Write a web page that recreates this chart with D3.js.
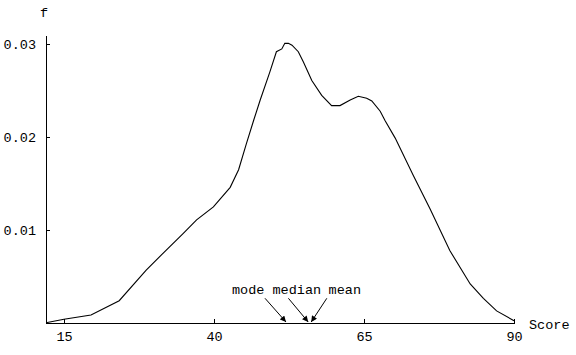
<!DOCTYPE html>
<html>
<head>
<meta charset="utf-8">
<script src="https://cdn.jsdelivr.net/npm/d3@7"></script>
<style>
  body { margin: 0; background: #fff; }
  text { font-family: "Liberation Mono", "DejaVu Sans Mono", monospace; font-size: 13.5px; fill: #000; }
</style>
</head>
<body>
<div id="chart"></div>
<script>
var plot = {
  width: 576,
  height: 355,
  top: 35,
  right: 62,
  bottom: 32,
  left: 46,
}

// density curve
var scores = [12, 15, 19.5, 24.2, 28.7, 31.2, 34.8, 37.1, 39.9, 42.7,
  44.1, 45.4, 46.6, 47.7, 49.3, 50.4, 51.3, 51.8, 52.4, 53.0,
  54.05, 54.9, 56.3, 57.95, 59.6, 61, 62.7, 64.05, 65.45, 66.3,
  67.7, 68.5, 70.2, 73.2, 76, 79.3, 82.7, 84.9, 87.1, 90];
var density = [0.00003, 0.0004, 0.00086, 0.0024, 0.0057, 0.0073, 0.0096, 0.0111, 0.0125, 0.0146,
  0.0165, 0.0193, 0.0218, 0.0240, 0.0270, 0.0292, 0.0295, 0.0301, 0.0301, 0.0299,
  0.0292, 0.0281, 0.0261, 0.0245, 0.0234, 0.0234, 0.0240, 0.0244, 0.0242, 0.0239,
  0.0228, 0.0218, 0.0199, 0.0159, 0.0123, 0.0078, 0.0042, 0.00266, 0.0013, 0.00025];

var xTicks = [15, 40, 65, 90];
var yTicks = [0.01, 0.02, 0.03];

// annotations: label name, arrow target score, arrow tail score, label centre score
var statNames = ["mode", "median", "mean"];
var statValues = [52, 55.7, 56.2];
var tailScores = [48.5, 52.4, 58.8];
var labelScores = [45.7, 53.8, 61.8];
var tailF = 0.00266;
var labelF = 0.00355;

var svg = d3.select("#chart")
  .append("svg")
  .attr("width", plot.width)
  .attr("height", plot.height);

let x = d3.scaleLinear()
  .domain([12, 90])
  .range([plot.left, plot.width - plot.right]);

let y = d3.scaleLinear()
  .domain([0, 0.031])
  .range([plot.height - plot.bottom, plot.top]);

/* x axis */
svg.append("g")
  .attr("transform", `translate(0, ${plot.height - plot.bottom})`)
  .call(d3.axisBottom(x).tickValues(xTicks).tickSize(-4).tickSizeOuter(0).tickPadding(8).tickFormat(d3.format("d")));

/* y axis */
svg.append("g")
  .attr("transform", `translate(${plot.left}, 0)`)
  .call(d3.axisLeft(y).tickValues(yTicks).tickSize(-4).tickSizeOuter(0).tickPadding(10).tickFormat(d3.format(".2f")));

svg.selectAll(".domain, .tick line")
  .attr("stroke", "#000")
  .attr("stroke-width", 1.2)
  .attr("shape-rendering", "crispEdges");
svg.selectAll(".tick text")
  .attr("font-family", null)
  .attr("font-size", null);

svg.append("text")
  .attr("x", plot.left - 2)
  .attr("y", 17)
  .attr("text-anchor", "middle")
  .text("f");

svg.append("text")
  .attr("x", plot.width - plot.right + 15)
  .attr("y", plot.height - plot.bottom + 6)
  .text("Score");

/* curve */
let line = d3.line()
  .x((d, i) => x(scores[i]))
  .y((d) => y(d))
  .curve(d3.curveLinear);

svg.append("path")
  .datum(density)
  .attr("d", line)
  .attr("fill", "none")
  .attr("stroke", "#000")
  .attr("stroke-width", 1.1);

/* arrows */
svg.append("defs")
  .append("marker")
  .attr("id", "head")
  .attr("viewBox", "0 0 10 10")
  .attr("refX", 10)
  .attr("refY", 5)
  .attr("markerWidth", 7)
  .attr("markerHeight", 6)
  .attr("markerUnits", "userSpaceOnUse")
  .attr("orient", "auto")
  .append("path")
  .attr("d", "M0,0L10,5L0,10Z")
  .attr("fill", "#000");

svg.append("g")
  .selectAll("line")
  .data(statNames)
  .enter()
  .append("line")
  .attr("x1", (d, i) => x(tailScores[i]))
  .attr("y1", y(tailF))
  .attr("x2", (d, i) => x(statValues[i]))
  .attr("y2", y(0) - 1)
  .attr("stroke", "#000")
  .attr("stroke-width", 1)
  .attr("marker-end", "url(#head)");

svg.append("g")
  .selectAll("text")
  .data(statNames)
  .enter()
  .append("text")
  .attr("x", (d, i) => x(labelScores[i]))
  .attr("y", y(labelF))
  .attr("dy", "0.32em")
  .attr("text-anchor", "middle")
  .text((d) => d);
</script>
</body>
</html>
